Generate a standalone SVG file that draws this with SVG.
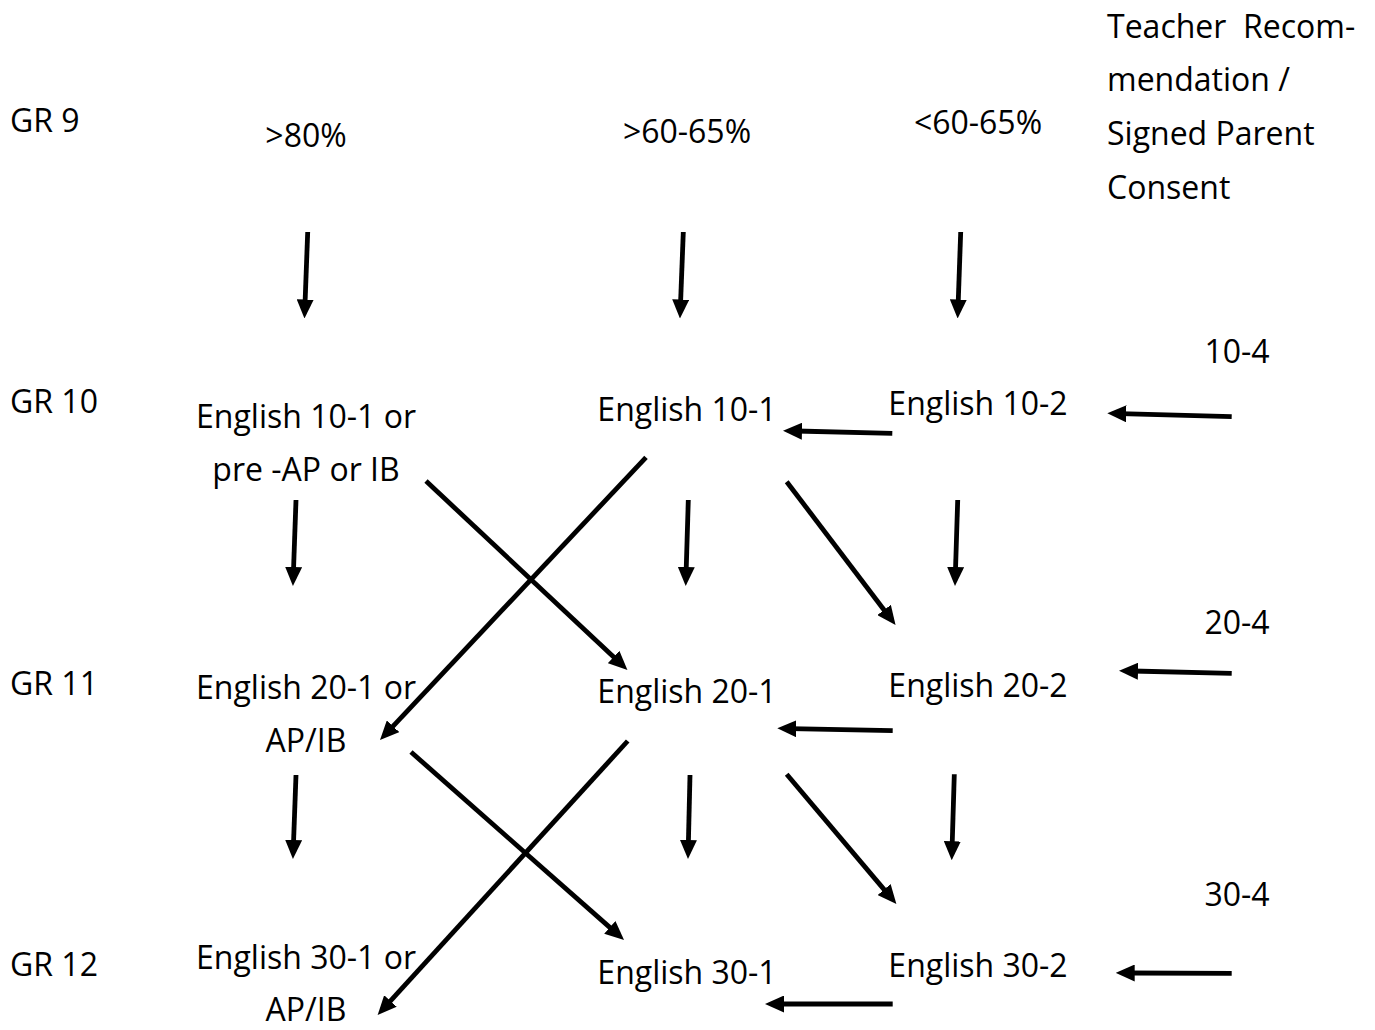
<svg xmlns="http://www.w3.org/2000/svg" width="1375" height="1030" viewBox="0 0 1375 1030">
  <style>
    text { font-family: "Open Sans", "Liberation Sans", sans-serif; font-size: 32px; fill: #000; white-space: pre; }
    .c { text-anchor: middle; }
    .conn line { stroke: #000; stroke-width: 4.8; fill: none; marker-end: url(#ah); }
  </style>
  <defs>
    <marker id="ah" markerUnits="userSpaceOnUse" markerWidth="19" markerHeight="17" refX="6" refY="8.5" orient="auto">
      <path d="M0,0 L19,8.5 L0,17 z" fill="#000"/>
    </marker>
  </defs>
  <rect width="1375" height="1030" fill="#fff"/>

  <g id="gr9"><text x="10" y="132">GR 9</text></g>
  <g id="gr10"><text x="10" y="413">GR 10</text></g>
  <g id="gr11"><text x="10" y="695">GR 11</text></g>
  <g id="gr12"><text x="10" y="976">GR 12</text></g>

  <g id="p80"><text class="c" x="306" y="147">&gt;80%</text></g>
  <g id="p60"><text class="c" x="687" y="143">&gt;60-65%</text></g>
  <g id="plt60"><text class="c" x="978" y="134">&lt;60-65%</text></g>
  <g id="teacher">
    <text x="1107" y="38">Teacher  Recom-</text>
    <text x="1107" y="91">mendation /</text>
    <text x="1107" y="145">Signed Parent</text>
    <text x="1107" y="199">Consent</text>
  </g>

  <g id="e101ap">
    <text class="c" x="306" y="428">English 10-1 or</text>
    <text class="c" x="306" y="481">pre -AP or IB</text>
  </g>
  <g id="e101"><text class="c" x="687" y="421">English 10-1</text></g>
  <g id="e102"><text class="c" x="978" y="415">English 10-2</text></g>
  <g id="e104"><text class="c" x="1237" y="363">10-4</text></g>

  <g id="e201ap">
    <text class="c" x="306" y="699">English 20-1 or</text>
    <text class="c" x="306" y="752">AP/IB</text>
  </g>
  <g id="e201"><text class="c" x="687" y="703">English 20-1</text></g>
  <g id="e202"><text class="c" x="978" y="697">English 20-2</text></g>
  <g id="e204"><text class="c" x="1237" y="634">20-4</text></g>

  <g id="e301ap">
    <text class="c" x="306" y="969">English 30-1 or</text>
    <text class="c" x="306" y="1021">AP/IB</text>
  </g>
  <g id="e301"><text class="c" x="687" y="984">English 30-1</text></g>
  <g id="e302"><text class="c" x="978" y="977">English 30-2</text></g>
  <g id="e304"><text class="c" x="1237" y="906">30-4</text></g>

  <g id="connectors" class="conn">
    <line x1="307.7" y1="232" x2="304.95" y2="305.5"/>
    <line x1="683.3" y1="232" x2="680.46" y2="305.5"/>
    <line x1="960.7" y1="232" x2="958.1" y2="305.5"/>

    <line x1="296" y1="500" x2="293.4" y2="573"/>
    <line x1="688.3" y1="500" x2="686.1" y2="573"/>
    <line x1="957.7" y1="500" x2="955.4" y2="573"/>
    <line x1="786.7" y1="481.7" x2="887.7" y2="614.7"/>
    <line x1="426" y1="481" x2="617.95" y2="661.1"/>
    <line x1="646" y1="457.3" x2="388.9" y2="730.6"/>
    <line x1="892.3" y1="433.3" x2="796" y2="431"/>
    <line x1="1231.7" y1="416.7" x2="1120.3" y2="413.6"/>

    <line x1="296" y1="775" x2="293.4" y2="846"/>
    <line x1="690" y1="775" x2="688.3" y2="846"/>
    <line x1="954.3" y1="774.3" x2="952.1" y2="847.3"/>
    <line x1="786.7" y1="774.3" x2="888" y2="894.1"/>
    <line x1="411" y1="752" x2="614.3" y2="931.4"/>
    <line x1="627.7" y1="741" x2="386.4" y2="1005.4"/>
    <line x1="892.7" y1="730.7" x2="790.3" y2="728.6"/>
    <line x1="1231.7" y1="673.3" x2="1132" y2="671"/>

    <line x1="892.7" y1="1004" x2="778" y2="1004"/>
    <line x1="1231.7" y1="973.3" x2="1128.7" y2="973"/>
  </g>
</svg>
